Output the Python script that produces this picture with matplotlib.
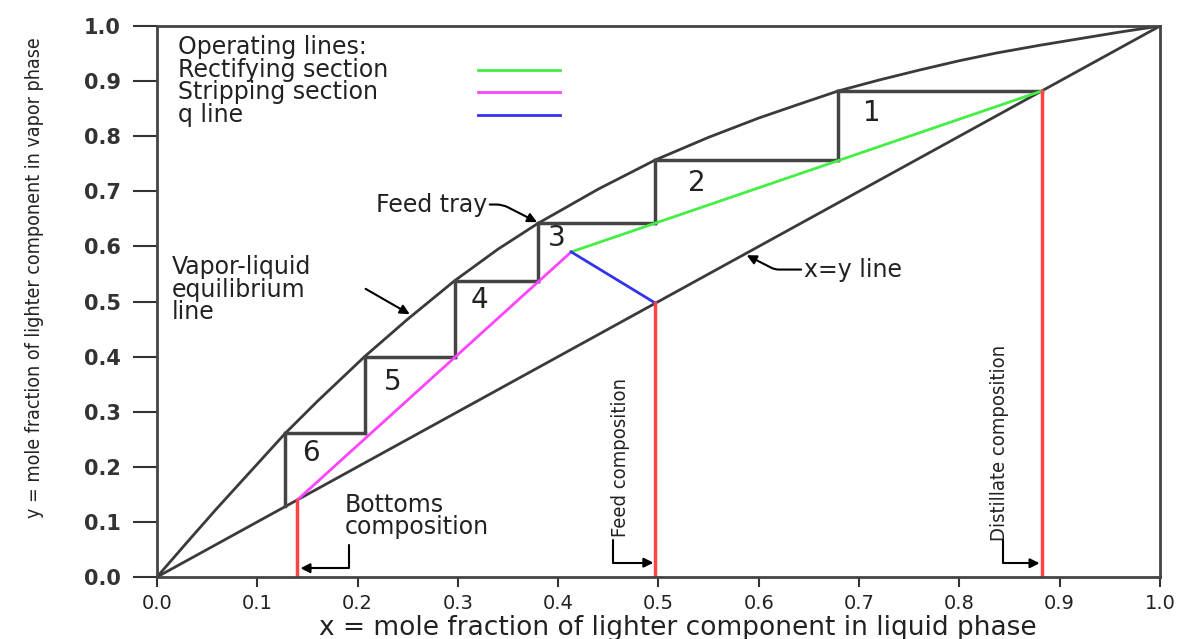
import matplotlib
matplotlib.use("Agg")
import matplotlib.pyplot as plt
from matplotlib import font_manager as fm

# equilibrium curve
eq_x = [0.0, 0.03, 0.06, 0.09, 0.128, 0.16, 0.207, 0.25, 0.297, 0.34, 0.38, 0.44,
        0.497, 0.55, 0.60, 0.64, 0.679, 0.72, 0.76, 0.80, 0.837, 0.88, 0.92, 0.96, 1.0]
eq_y = [0.0, 0.063, 0.125, 0.185, 0.261, 0.319, 0.400, 0.468, 0.538, 0.595, 0.642, 0.704,
        0.757, 0.798, 0.833, 0.858, 0.882, 0.902, 0.920, 0.937, 0.951, 0.965, 0.977, 0.989, 1.0]

# compositions
x_bottoms = 0.14
x_feed = 0.497
x_distillate = 0.882
x_pinch = 0.413
y_pinch = 0.590

# stages (horizontal level, x on equilibrium curve, bottom of the riser)
stage_y = [0.882, 0.757, 0.642, 0.538, 0.40, 0.261]
stage_x = [0.679, 0.497, 0.380, 0.297, 0.207, 0.128]
stage_low = [0.757, 0.642, 0.538, 0.40, 0.261, 0.128]
stage_labels = ['1', '2', '3', '4', '5', '6']
label_pos = [(0.713, 0.842), (0.538, 0.715), (0.399, 0.615),
             (0.322, 0.503), (0.235, 0.354), (0.154, 0.225)]

ticks = [0.0, 0.1, 0.2, 0.3, 0.4, 0.5, 0.6, 0.7, 0.8, 0.9, 1.0]

dark = '#3a3a3a'
green = '#44ee44'
magenta = '#ff44ff'
blue = '#3333ee'
red = '#ff4444'
txt = '#222222'

# condensed face for the rotated labels, if the system has one
has_cond = any(f.name == 'DejaVu Sans' and f.stretch == 'condensed'
               for f in fm.fontManager.ttflist)
cond = dict(family='DejaVu Sans', fontstretch='condensed')
rot_fs = 14.5 if has_cond else 13
ylab_fs = 14 if has_cond else 12.8

fig = plt.figure(figsize=(11.89, 6.39), dpi=100)
ax = fig.add_axes([0.132, 0.097, 0.8436, 0.8623])

ax.plot(eq_x, eq_y, color=dark, lw=2)
ax.plot([0, 1], [0, 1], color=dark, lw=2)

# stair steps
x_prev = x_distillate
for i in range(len(stage_y)):
    ax.plot([x_prev, stage_x[i]], [stage_y[i], stage_y[i]], color='#444444', lw=2.5)
    ax.plot([stage_x[i], stage_x[i]], [stage_y[i], stage_low[i]], color='#444444', lw=2.5)
    x_prev = stage_x[i]
    ax.text(label_pos[i][0], label_pos[i][1], stage_labels[i], fontsize=20,
            ha='center', va='center', color=txt)

# operating lines
ax.plot([x_distillate, x_pinch], [x_distillate, y_pinch], color=green, lw=2)
ax.plot([x_pinch, x_bottoms], [y_pinch, x_bottoms], color=magenta, lw=2)
ax.plot([x_feed, x_pinch], [x_feed, y_pinch], color=blue, lw=2)

# composition markers
for xc in [x_bottoms, x_feed, x_distillate]:
    ax.plot([xc, xc], [0, xc], color=red, lw=2.5)

# legend drawn by hand
fs = 17
ax.text(0.021, 0.962, 'Operating lines:', fontsize=fs, va='center', color=txt)
leg_names = ['Rectifying section', 'Stripping section', 'q line']
leg_colors = [green, magenta, blue]
leg_y = [0.921, 0.880, 0.838]
for name, c, yy in zip(leg_names, leg_colors, leg_y):
    ax.text(0.021, yy, name, fontsize=fs, va='center', color=txt)
    ax.plot([0.320, 0.402], [yy, yy], color=c, lw=2)

arrow = dict(arrowstyle='-|>', color='black', lw=1.5, mutation_scale=14,
             shrinkA=0, shrinkB=0)

# annotations
ax.annotate('Feed tray', xy=(0.379, 0.644), xytext=(0.329, 0.676), fontsize=fs,
            ha='right', va='center', color=txt,
            arrowprops=dict(arrow, relpos=(1, 0.5),
                            connectionstyle='angle,angleA=0,angleB=-27,rad=6'))
ax.text(0.015, 0.521, 'Vapor-liquid\nequilibrium\nline', fontsize=fs,
        va='center', color=txt, linespacing=0.92)
ax.annotate('', xy=(0.252, 0.477), xytext=(0.208, 0.523), arrowprops=arrow)
ax.annotate('x=y line', xy=(0.588, 0.584), xytext=(0.645, 0.558), fontsize=fs,
            ha='left', va='center', color=txt,
            arrowprops=dict(arrow, relpos=(0, 0.5),
                            connectionstyle='angle,angleA=0,angleB=-27,rad=4'))

ax.text(0.187, 0.111, 'Bottoms\ncomposition', fontsize=fs, va='center',
        color=txt, linespacing=0.92)
ax.annotate('', xy=(0.143, 0.016), xytext=(0.191, 0.058),
            arrowprops=dict(arrow, connectionstyle='angle,angleA=90,angleB=0,rad=0'))

ax.text(0.462, 0.216, 'Feed composition', fontsize=rot_fs, rotation=90,
        ha='center', va='center', color=txt, **cond)
ax.annotate('', xy=(0.495, 0.026), xytext=(0.455, 0.067),
            arrowprops=dict(arrow, connectionstyle='angle,angleA=90,angleB=0,rad=0'))

ax.text(0.840, 0.243, 'Distillate composition', fontsize=rot_fs, rotation=90,
        ha='center', va='center', color=txt, **cond)
ax.annotate('', xy=(0.880, 0.025), xytext=(0.843, 0.067),
            arrowprops=dict(arrow, connectionstyle='angle,angleA=90,angleB=0,rad=0'))

# axes styling
ax.set_xlim(0, 1)
ax.set_ylim(0, 1)
ax.set_xticks(ticks)
ax.set_yticks(ticks)
ax.set_xticklabels(['%.1f' % t for t in ticks], fontsize=14, color=txt)
ax.set_yticklabels(['%.1f' % t for t in ticks], fontsize=15, fontweight='bold',
                   color='#333333')
ax.tick_params(axis='y', length=17, width=1.5, pad=9, color='#333333')
ax.tick_params(axis='x', length=7, width=1.5, pad=5, color='#333333')
for s in ax.spines.values():
    s.set_color('#444444')
    s.set_linewidth(2)

ax.set_xlabel('x = mole fraction of lighter component in liquid phase',
              fontsize=19, color=txt, va='center')
ax.xaxis.set_label_coords(0.519, -0.093)
ax.set_ylabel('y = mole fraction of lighter component in vapor phase',
              fontsize=ylab_fs, color=txt, va='center', **cond)
ax.yaxis.set_label_coords(-0.122, 0.544)

fig.savefig('out.png', dpi=100)
